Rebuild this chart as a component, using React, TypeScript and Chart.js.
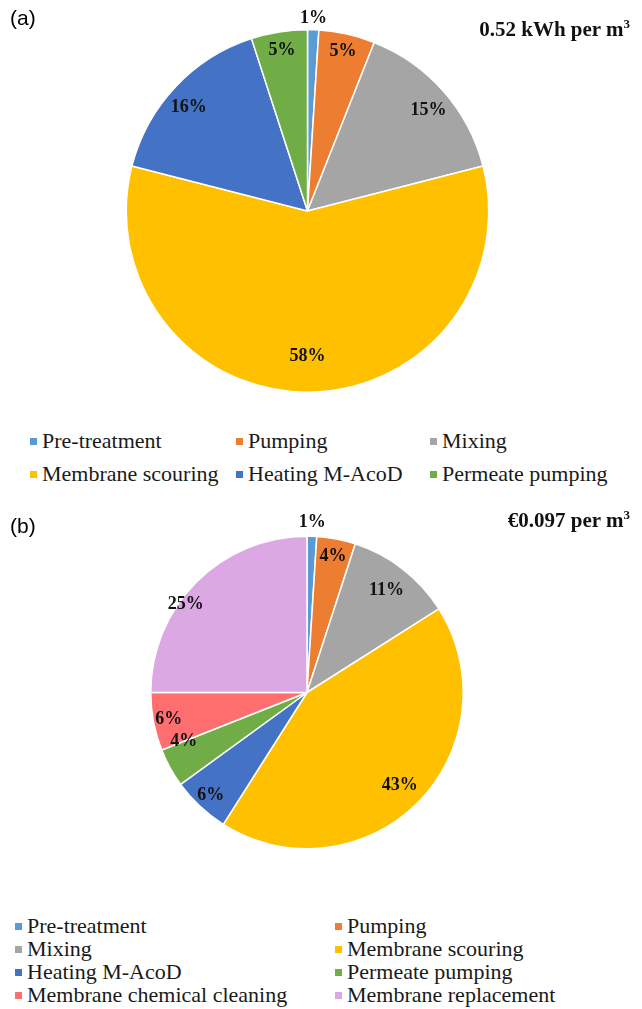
import React, { useEffect, useRef } from "react";
import { Chart, registerables } from "chart.js";

Chart.register(...registerables);

// ---- Data ----
const energyCategories = [
  "Pre-treatment",
  "Pumping",
  "Mixing",
  "Membrane scouring",
  "Heating M-AcoD",
  "Permeate pumping",
];
const energyValues = [1, 5, 15, 58, 16, 5];
const energyColors = ["#5B9BD5", "#ED7D31", "#A5A5A5", "#FFC000", "#4472C4", "#70AD47"];
const energyTitle = "0.52 kWh per m";

const costCategories = [
  "Pre-treatment",
  "Pumping",
  "Mixing",
  "Membrane scouring",
  "Heating M-AcoD",
  "Permeate pumping",
  "Membrane chemical cleaning",
  "Membrane replacement",
];
const costValues = [1, 4, 11, 43, 6, 4, 6, 25];
const costColors = [
  "#5B9BD5",
  "#ED7D31",
  "#A5A5A5",
  "#FFC000",
  "#4472C4",
  "#70AD47",
  "#FF6F6F",
  "#DBA8E3",
];
const costTitle = "€0.097 per m";

// label placement (fraction of radius, angle nudge in degrees) — style config
const energyLabelPos = [1.065, 0.9, 0.87, 0.8, 0.87, 0.9];
const energyLabelNudge = [0, 0, 1.5, 0, -2, 0];
const costLabelPos = [1.09, 0.89, 0.83, 0.84, 0.9, 0.85, 0.9, 0.96];
const costLabelNudge = [0, 0, 0, 0, 0, 7, 0, -9];

const SERIF = "'Liberation Serif', 'Times New Roman', serif";
const SANS = "'Liberation Sans', Arial, sans-serif";

const pctLabelPlugin = {
  id: "pctLabels",
  afterDatasetsDraw(chart: any) {
    const opts = chart.options.plugins.pctLabels || {};
    const factors: number[] = opts.factors || [];
    const nudges: number[] = opts.nudges || [];
    const meta = chart.getDatasetMeta(0);
    const data = chart.data.datasets[0].data as number[];
    const ctx = chart.ctx;
    ctx.save();
    ctx.font = `bold 18px ${SERIF}`;
    ctx.fillStyle = "#111";
    ctx.textAlign = "center";
    ctx.textBaseline = "middle";
    meta.data.forEach((arc: any, i: number) => {
      const p = arc.getProps(["x", "y", "startAngle", "endAngle", "outerRadius"], true);
      const mid = (p.startAngle + p.endAngle) / 2 + ((nudges[i] ?? 0) * Math.PI) / 180;
      const f = factors[i] ?? 0.85;
      const x = p.x + Math.cos(mid) * p.outerRadius * f;
      const y = p.y + Math.sin(mid) * p.outerRadius * f;
      ctx.fillText(`${data[i]}%`, x, y);
    });
    ctx.restore();
  },
};

function PieCanvas(props: {
  labels: string[];
  values: number[];
  colors: string[];
  factors: number[];
  nudges: number[];
  width: number;
  height: number;
  padding: { left: number; right: number; top: number; bottom: number };
}) {
  const ref = useRef<HTMLCanvasElement>(null);
  useEffect(() => {
    if (!ref.current) return;
    const chart = new Chart(ref.current, {
      type: "pie",
      data: {
        labels: props.labels,
        datasets: [
          {
            data: props.values,
            backgroundColor: props.colors,
            borderColor: "#ffffff",
            borderWidth: 1.5,
          },
        ],
      },
      options: {
        animation: false,
        responsive: false,
        maintainAspectRatio: false,
        devicePixelRatio: 1,
        layout: { padding: props.padding },
        plugins: {
          legend: { display: false },
          tooltip: { enabled: false },
          pctLabels: { factors: props.factors, nudges: props.nudges },
        } as any,
      },
      plugins: [pctLabelPlugin],
    });
    return () => chart.destroy();
  }, []);
  return (
    <canvas
      ref={ref}
      width={props.width}
      height={props.height}
      style={{ width: props.width, height: props.height, display: "block" }}
    />
  );
}

function LegendItem(props: { color: string; label: string; left: number; top: number }) {
  return (
    <div
      style={{
        position: "absolute",
        left: props.left,
        top: props.top,
        display: "flex",
        alignItems: "center",
        whiteSpace: "nowrap",
        fontFamily: SERIF,
        fontSize: 22,
        lineHeight: "22px",
        color: "#1a1a1a",
      }}
    >
      <span
        style={{
          display: "inline-block",
          width: 7,
          height: 7,
          background: props.color,
          marginRight: 5,
        }}
      />
      <span>{props.label}</span>
    </div>
  );
}

export default function App() {
  useEffect(() => {
    document.body.style.margin = "0";
  }, []);
  const W = 642;
  const aCols = [30, 236, 430];
  const aRows = [430, 463];
  const bCols = [15, 335];
  const bRows = [915, 938, 961, 984];
  const titleStyle: React.CSSProperties = {
    position: "absolute",
    right: 12,
    fontFamily: SERIF,
    fontWeight: "bold",
    fontSize: 21,
    whiteSpace: "nowrap",
    color: "#111",
  };
  return (
    <div
      style={{
        position: "fixed",
        left: 0,
        top: 0,
        width: W,
        height: 1009,
        background: "#fff",
        overflow: "hidden",
      }}
    >
      <div style={{ position: "absolute", left: 0, top: 0 }}>
        <PieCanvas
          labels={energyCategories}
          values={energyValues}
          colors={energyColors}
          factors={energyLabelPos}
          nudges={energyLabelNudge}
          width={W}
          height={420}
          padding={{ left: 125, right: 152, top: 29, bottom: 27 }}
        />
      </div>
      <div style={{ position: "absolute", left: 0, top: 500 }}>
        <PieCanvas
          labels={costCategories}
          values={costValues}
          colors={costColors}
          factors={costLabelPos}
          nudges={costLabelNudge}
          width={W}
          height={400}
          padding={{ left: 150, right: 178, top: 35, bottom: 50 }}
        />
      </div>

      <div style={{ position: "absolute", left: 10, top: 6, fontFamily: SANS, fontSize: 21 }}>(a)</div>
      <div style={{ position: "absolute", left: 10, top: 514, fontFamily: SANS, fontSize: 21 }}>(b)</div>

      <div style={{ ...titleStyle, top: 16 }}>
        {energyTitle}
        <sup style={{ fontSize: 13 }}>3</sup>
      </div>
      <div style={{ ...titleStyle, top: 507 }}>
        {costTitle}
        <sup style={{ fontSize: 13 }}>3</sup>
      </div>

      {energyCategories.map((c, i) => (
        <LegendItem
          key={"a" + i}
          color={energyColors[i]}
          label={c}
          left={aCols[i % 3]}
          top={aRows[Math.floor(i / 3)]}
        />
      ))}
      {costCategories.map((c, i) => (
        <LegendItem
          key={"b" + i}
          color={costColors[i]}
          label={c}
          left={bCols[i % 2]}
          top={bRows[Math.floor(i / 2)]}
        />
      ))}
    </div>
  );
}
